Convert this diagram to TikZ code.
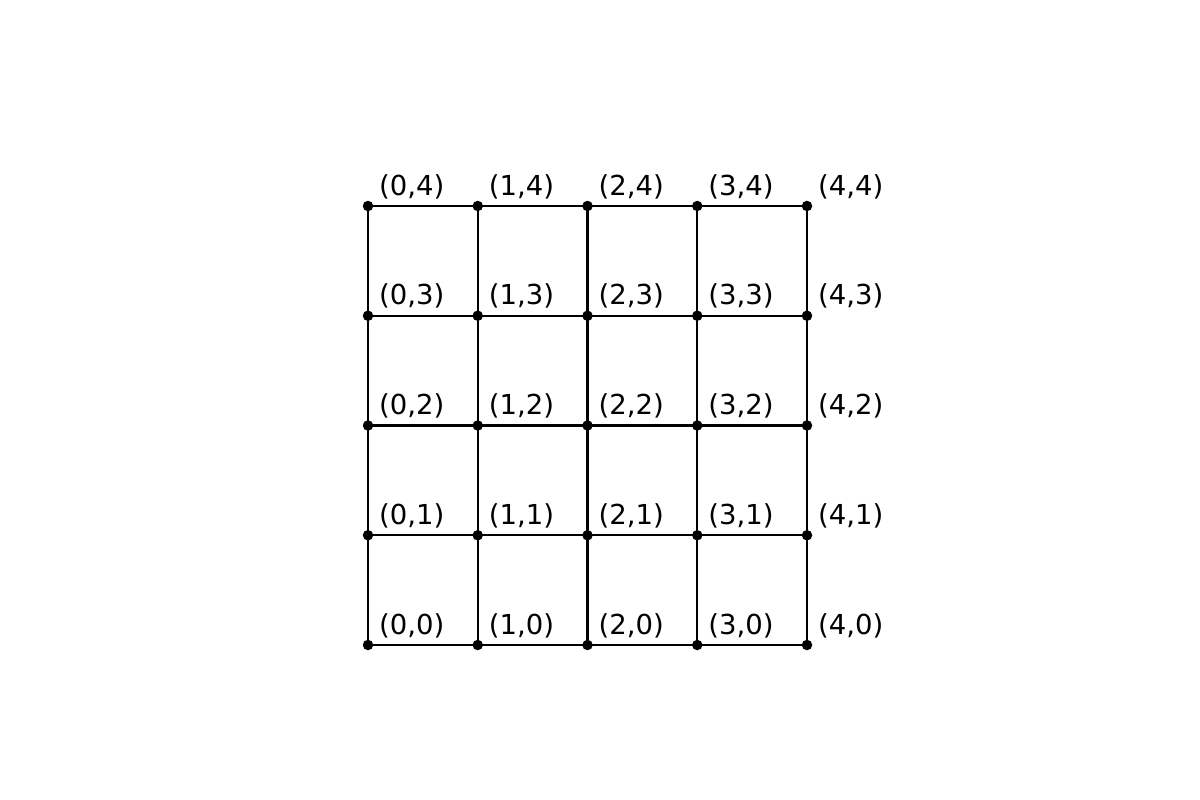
\documentclass[tikz,border=0pt]{standalone}
\usepackage{fontspec}
\setmainfont{DejaVu Sans}
\usetikzlibrary{calc}
\begin{document}
\begin{tikzpicture}[x=1pt,y=-1pt,
  dot/.style={circle,fill=black,inner sep=0pt,minimum size=10.5pt},
  edge/.style={line width=2.1pt,black},
  lbl/.style={anchor=base west,inner sep=0pt,font=\fontsize{27.5}{30}\selectfont}]
\useasboundingbox (0,0) rectangle (1200,800);
\foreach \i in {0,...,4}{
  \foreach \j in {0,...,4}{
    \coordinate (c-\i-\j) at ({368+109.75*\i},{645-109.75*\j});
  }
}
\foreach \i in {0,...,4}{
  \foreach \j in {0,...,3}{
    \pgfmathtruncatemacro{\k}{\j+1}
    \draw[edge] (c-\i-\j) -- (c-\i-\k);
    \draw[edge] (c-\j-\i) -- (c-\k-\i);
  }
}
\foreach \i in {0,...,4}{
  \foreach \j in {0,...,4}{
    \node[dot] (p-\i-\j) at (c-\i-\j) {};
    \node[lbl] (l-\i-\j) at ($(c-\i-\j)+(11,-11)$) {(\i,\j)};
  }
}
\end{tikzpicture}
\end{document}
